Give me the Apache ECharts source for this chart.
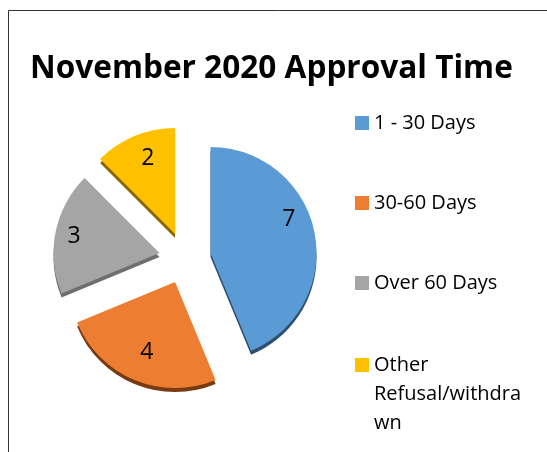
<!DOCTYPE html>
<html>
<head>
<meta charset="utf-8">
<script src="https://cdn.jsdelivr.net/npm/echarts@6/dist/echarts.min.js"></script>
<style>
  html, body { margin: 0; padding: 0; background: #fff; }
  #chart { width: 547px; height: 452px; }
</style>
</head>
<body>
<div id="chart"></div>
<script>
var categories = ['1 - 30 Days', '30-60 Days', 'Over 60 Days', 'Other Refusal/withdrawn'];
var counts = [7, 4, 3, 2];
var colors = ['#5B9BD5', '#ED7D31', '#A5A5A5', '#FFC000'];
var sideColors = ['#2F4F6E', '#7A3A10', '#6E6E6E', '#8A6800'];
// small shifts [dx, dy] of the value labels from the spot the library picks
var labelNudge = [[-7, -17], [5, -10], [0, 0], [6, 5]];

var FONT = 'Open Sans';
var CENTER = [185, 258];
var RADIUS = 106;
var OFFSET = 26;

function nudgedLabel(n) {
    var dx = n[0], dy = n[1];
    var lbl = {
        padding: [0, dx < 0 ? -2 * dx : 0, 0, dx > 0 ? 2 * dx : 0]
    };
    if (dy != 0) {
        lbl.lineHeight = 2 * Math.abs(dy);
        lbl.formatter = dy < 0 ? '{c}\n' : '\n{c}';
    }
    return lbl;
}

function buildData(cols, withLabel) {
    var data = [];
    for (var i = 0; i < categories.length; ++i) {
        var item = {
            name: categories[i],
            value: counts[i],
            selected: true,
            itemStyle: { color: cols ? cols[i] : 'rgba(0,0,0,0)' }
        };
        if (withLabel) {
            item.label = nudgedLabel(labelNudge[i]);
        }
        data.push(item);
    }
    return data;
}

// one legend per item; the last one wraps, first line level with the icon
var legendTops = [108.5, 188.5, 268.5, 292.5];
var legends = [];
for (var i = 0; i < categories.length; ++i) {
    var last = i == categories.length - 1;
    legends.push({
        data: [categories[i]],
        orient: 'vertical',
        left: 355,
        top: legendTops[i],
        padding: 0,
        itemWidth: 14,
        itemHeight: 14,
        itemGap: 0,
        icon: 'rect',
        selectedMode: false,
        formatter: last ? function (n) { return '\n\nOther\nRefusal/withdra\nwn'; } : '{name}',
        textStyle: {
            fontFamily: FONT,
            fontSize: 20,
            color: '#000',
            lineHeight: 29
        }
    });
}

var baseSeries = {
    type: 'pie',
    radius: RADIUS,
    startAngle: 90,
    clockwise: true,
    selectedMode: 'multiple',
    selectedOffset: OFFSET,
    animation: false,
    silent: true,
    emphasis: { disabled: true },
    labelLine: { show: false }
};

var option = {
    backgroundColor: '#fff',
    title: {
        text: 'November 2020 Approval Time',
        left: 25,
        top: 48,
        textStyle: { fontFamily: FONT, fontWeight: 'bold', fontSize: 31.6, color: '#000' }
    },
    legend: legends,
    graphic: [{
        type: 'rect',
        shape: { x: 8.5, y: 10.5, width: 700, height: 600 },
        style: { fill: 'none', stroke: '#333', lineWidth: 1 },
        silent: true
    }],
    series: [
        Object.assign({}, baseSeries, {
            name: 'Approval',
            z: 3,
            center: CENTER,
            label: { show: false },
            data: buildData(colors, false)
        }),
        // depth (the darker side of each slice)
        Object.assign({}, baseSeries, {
            name: 'depth',
            z: 2,
            center: [CENTER[0], CENTER[1] + 4],
            label: { show: false },
            data: buildData(sideColors, false)
        }),
        // transparent ring that carries the value labels
        Object.assign({}, baseSeries, {
            name: 'labels',
            z: 4,
            center: CENTER,
            radius: [62, RADIUS],
            label: {
                show: true,
                position: 'inside',
                formatter: '{c}',
                fontFamily: FONT,
                fontSize: 23,
                color: '#000'
            },
            data: buildData(null, true)
        })
    ]
};

echarts.init(document.getElementById('chart')).setOption(option);
</script>
</body>
</html>
